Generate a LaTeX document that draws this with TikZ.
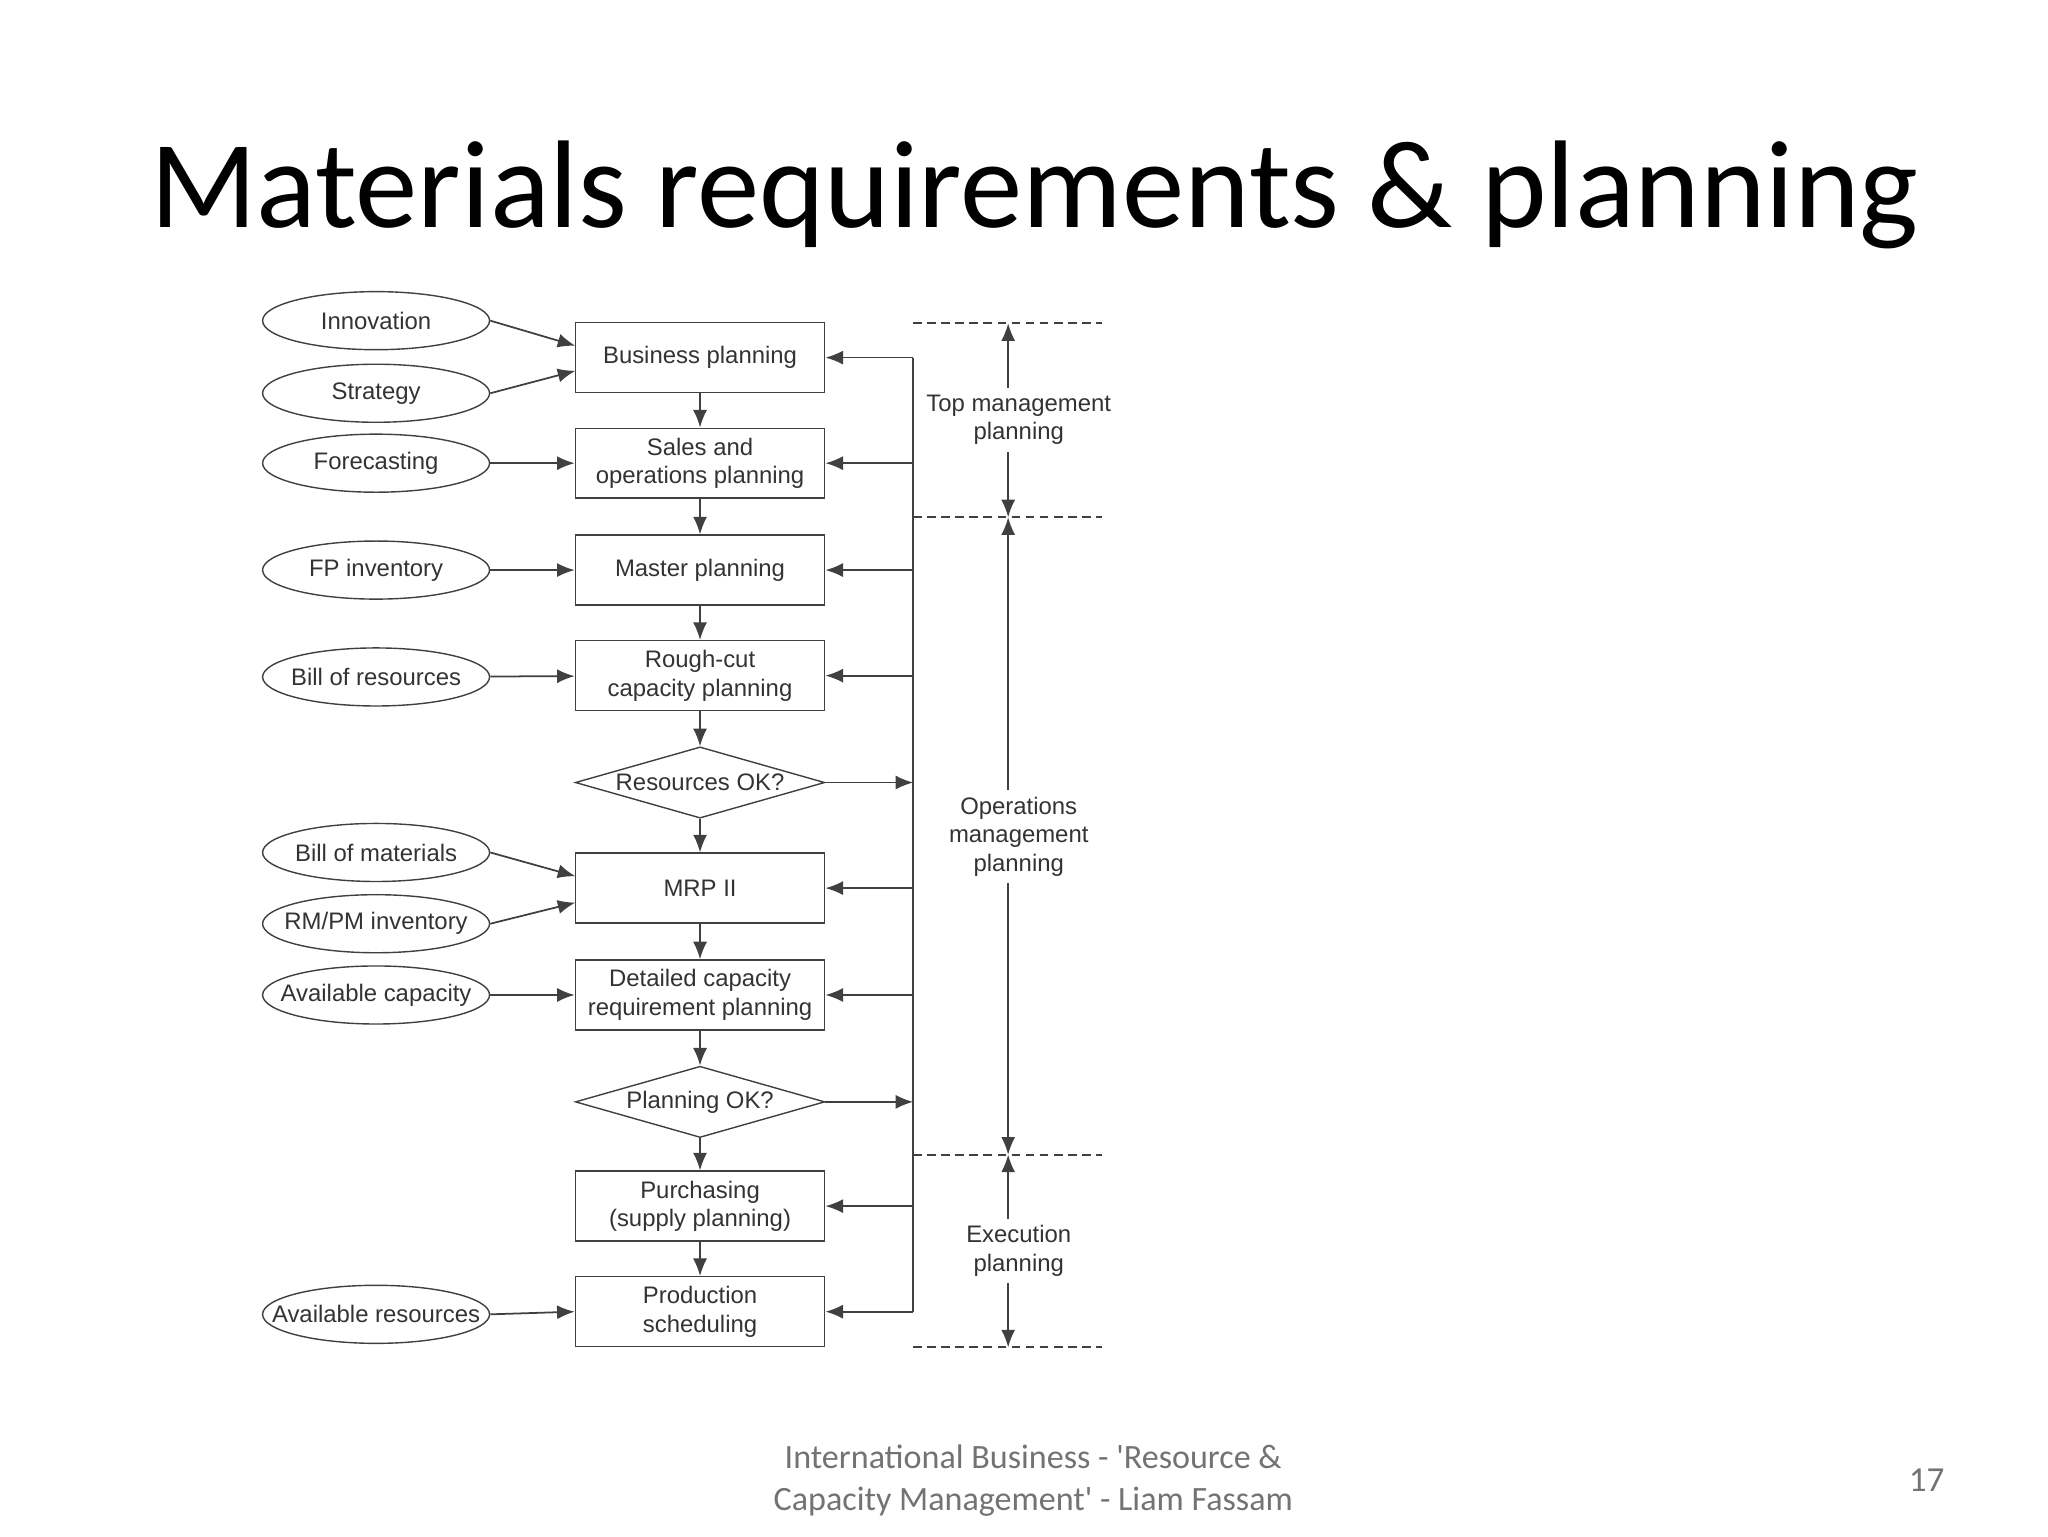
\documentclass[tikz,border=0pt]{standalone}
\usepackage{fontspec}
\setmainfont{Liberation Sans}
\newfontfamily\carl{Carlito}
\usetikzlibrary{shapes.geometric,arrows.meta}
\begin{document}
\begin{tikzpicture}[x=0.0132cm,y=-0.0132cm,
  every node/.style={font=\fontsize{6.8}{8.1}\selectfont, text=black!80, align=center},
  box/.style={draw=black!75, minimum width=189*0.0132cm, minimum height=53*0.0132cm, inner sep=1pt},
  dia/.style={draw=black!75, diamond, aspect=3.5, minimum width=189*0.0132cm, minimum height=54*0.0132cm, inner sep=0pt},
  ell/.style={draw=black!75, ellipse, minimum width=172*0.0132cm, minimum height=44*0.0132cm, inner ysep=0pt, inner xsep=-9pt},
  arr/.style={draw=black!75, -{Latex[length=5pt,width=4pt]}, line width=0.5pt},
  dsh/.style={draw=black!75, dash pattern=on 2.5pt off 1.5pt, line width=0.5pt},
  lbl/.style={fill=white, inner sep=2pt}]
\useasboundingbox (0,0) rectangle (1552,1164);
\node[font=\carl\fontsize{35.5}{40}\selectfont, text=black] (title) at (784,148) {Materials requirements \& planning};
% boxes
\node[box] (b1) at (530.5,271) {Business planning};
\node[box] (b2) at (530.5,351) {Sales and\\operations planning};
\node[box] (b3) at (530.5,432) {Master planning};
\node[box] (b4) at (530.5,512) {Rough-cut\\capacity planning};
\node[dia] (d1) at (530.5,593) {Resources OK?};
\node[box] (b5) at (530.5,673) {MRP II};
\node[box] (b6) at (530.5,754) {Detailed capacity\\requirement planning};
\node[dia] (d2) at (530.5,835) {Planning OK?};
\node[box] (b7) at (530.5,914) {Purchasing\\(supply planning)};
\node[box] (b8) at (530.5,994) {Production\\scheduling};
\foreach \a/\b in {b1/b2,b2/b3,b3/b4,b4/d1,d1/b5,b5/b6,b6/d2,d2/b7,b7/b8} \draw[arr] (\a) -- (\b);
% ellipses
\node[ell] (e1) at (285,243) {Innovation};
\node[ell] (e2) at (285,298) {Strategy};
\node[ell] (e3) at (285,351) {Forecasting};
\node[ell] (e4) at (285,432) {FP inventory};
\node[ell] (e5) at (285,513) {Bill of resources};
\node[ell] (e6) at (285,646) {Bill of materials};
\node[ell] (e7) at (285,700) {RM/PM inventory};
\node[ell] (e8) at (285,754) {Available capacity};
\node[ell] (e9) at (285,996) {Available resources};
\draw[arr] (e1.east) -- (436,262);
\draw[arr] (e2.east) -- (436,281);
\draw[arr] (e3) -- (b2);
\draw[arr] (e4) -- (b3);
\draw[arr] (e5) -- (b4);
\draw[arr] (e6.east) -- (436,664);
\draw[arr] (e7.east) -- (436,684);
\draw[arr] (e8) -- (b6);
\draw[arr] (e9.east) -- (b8.west);
% feedback line
\coordinate (ft) at (692,271);
\coordinate (fb) at (692,994);
\draw[draw=black!75, line width=0.5pt] (ft) -- (fb);
\foreach \n in {b1,b2,b3,b4,b5,b6,b7,b8} \draw[arr] (692,0 |- \n.east) -- (\n.east);
\draw[arr] (d1.east) -- (692,593);
\draw[arr] (d2.east) -- (692,835);
% levels
\foreach \y in {245,392,875,1021} \draw[dsh] (692,\y) -- (835,\y);
\draw[arr, {Latex[length=5pt,width=4pt]}-{Latex[length=5pt,width=4pt]}] (764,245) -- (764,392);
\draw[arr, {Latex[length=5pt,width=4pt]}-{Latex[length=5pt,width=4pt]}] (764,392) -- (764,875);
\draw[arr, {Latex[length=5pt,width=4pt]}-{Latex[length=5pt,width=4pt]}] (764,875) -- (764,1021);
\node[lbl] (l1) at (772,318) {Top management\\planning};
\node[lbl] (l2) at (772,634) {Operations\\management\\planning};
\node[lbl] (l3) at (772,948) {Execution\\planning};
% footer
\node[font=\carl\fontsize{9.7}{12.2}\selectfont, text=black!55] (foot) at (783,1122) {International Business - 'Resource \&\\Capacity Management' - Liam Fassam};
\node[font=\carl\fontsize{10}{12}\selectfont, text=black!55] (pg) at (1460,1122) {17};
\end{tikzpicture}
\end{document}
